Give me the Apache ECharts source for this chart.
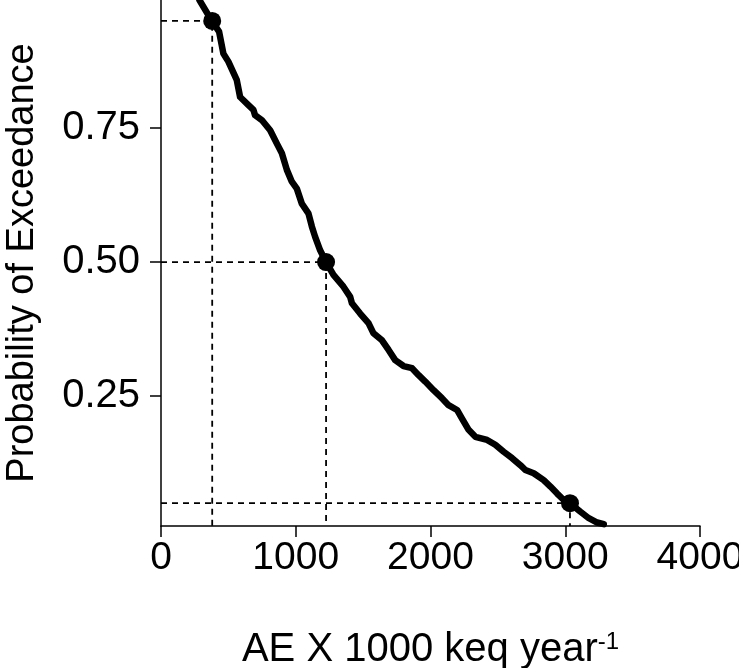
<!DOCTYPE html>
<html>
<head>
<meta charset="utf-8">
<script src="https://cdn.jsdelivr.net/npm/echarts@6/dist/echarts.min.js"></script>
<style>
html,body{margin:0;padding:0;background:#fff;}
#chart{width:739px;height:668px;}
</style>
</head>
<body>
<div id="chart"></div>
<script>
// Exceedance curve (AE x 1000 keq/yr vs probability of exceedance)
const curveX = [285, 377, 431, 463, 500, 562, 587, 649, 686, 698, 748, 810, 860, 897, 934, 971, 1008, 1045, 1094, 1120, 1144, 1181, 1225, 1280, 1354, 1404, 1417, 1478, 1540, 1577, 1640, 1689, 1738, 1800, 1863, 1912, 1961, 2023, 2085, 2134, 2197, 2234, 2283, 2333, 2420, 2481, 2543, 2606, 2667, 2704, 2766, 2840, 2890, 2940, 2989, 3035, 3113, 3175, 3237, 3286];
const curveY = [0.989, 0.950, 0.930, 0.889, 0.874, 0.840, 0.808, 0.793, 0.784, 0.774, 0.765, 0.746, 0.721, 0.703, 0.672, 0.650, 0.637, 0.609, 0.591, 0.566, 0.547, 0.522, 0.500, 0.476, 0.454, 0.435, 0.423, 0.404, 0.386, 0.367, 0.354, 0.336, 0.317, 0.306, 0.302, 0.289, 0.277, 0.261, 0.246, 0.233, 0.224, 0.208, 0.187, 0.174, 0.168, 0.159, 0.146, 0.134, 0.121, 0.112, 0.106, 0.093, 0.081, 0.068, 0.056, 0.050, 0.034, 0.022, 0.014, 0.011];
// Highlighted quantile points
const markX = [380, 1225, 3035];
const markY = [0.95, 0.50, 0.05];
// Axis ticks
const xTicks = [0, 1000, 2000, 3000, 4000];
const yTicks = [0.25, 0.50, 0.75];
const xTitle = 'AE X 1000 keq year';
const xTitleSup = '-1';
const yTitle = 'Probability of Exceedance';

const Y_MIN = 0.0075, Y_MAX = 0.989;
const FONT = "'Liberation Sans', Arial, sans-serif";

const chart = echarts.init(document.getElementById('chart'), null, {renderer: 'canvas'});

const guideSeries = markX.map((x, i) => ({
  type: 'line',
  data: [[0, markY[i]], [x, markY[i]], [x, Y_MIN]],
  symbol: 'none',
  silent: true,
  lineStyle: {color: '#000', width: 1.8, type: [6, 5]},
  z: 1
}));

chart.setOption({
  animation: false,
  backgroundColor: '#fff',
  textStyle: {fontFamily: FONT},
  grid: {left: 161, right: 39, top: 0, bottom: 142, containLabel: false, outerBoundsMode: 'none'},
  xAxis: {
    type: 'value',
    min: xTicks[0], max: xTicks[xTicks.length - 1], interval: 1000,
    axisLine: {show: true, onZero: false, lineStyle: {color: '#000', width: 1.5}},
    axisTick: {show: true, length: 11, lineStyle: {color: '#000', width: 1.5}},
    axisLabel: {fontSize: 39, color: '#000', margin: 13, fontFamily: FONT, formatter: v => String(v)},
    splitLine: {show: false},
    name: xTitle + '{sup|' + xTitleSup + '}',
    nameLocation: 'middle',
    nameGap: 104,
    nameTextStyle: {
      fontSize: 40, color: '#000', fontFamily: FONT,
      rich: {sup: {fontSize: 24, color: '#000', fontFamily: FONT, verticalAlign: 'top', padding: [0, 0, 16, 0]}}
    }
  },
  yAxis: {
    type: 'value',
    min: Y_MIN, max: Y_MAX,
    axisLine: {show: true, onZero: false, lineStyle: {color: '#000', width: 1.5}},
    axisTick: {show: true, length: 11, customValues: yTicks, lineStyle: {color: '#000', width: 1.5}},
    axisLabel: {customValues: yTicks, formatter: v => v.toFixed(2), fontSize: 40, color: '#000', margin: 21, fontFamily: FONT},
    splitLine: {show: false},
    name: yTitle,
    nameLocation: 'middle',
    nameGap: 119,
    nameTextStyle: {fontSize: 38, color: '#000', fontFamily: FONT}
  },
  series: guideSeries.concat([
    {
      type: 'line',
      data: curveX.map((x, i) => [x, curveY[i]]),
      symbol: 'none',
      smooth: false,
      lineStyle: {color: '#000', width: 6.5, cap: 'round', join: 'round'},
      z: 3
    },
    {
      type: 'scatter',
      data: markX.map((x, i) => [x, markY[i]]),
      symbol: 'circle',
      symbolSize: 18,
      itemStyle: {color: '#000', opacity: 1},
      z: 4
    }
  ])
});
</script>
</body>
</html>
